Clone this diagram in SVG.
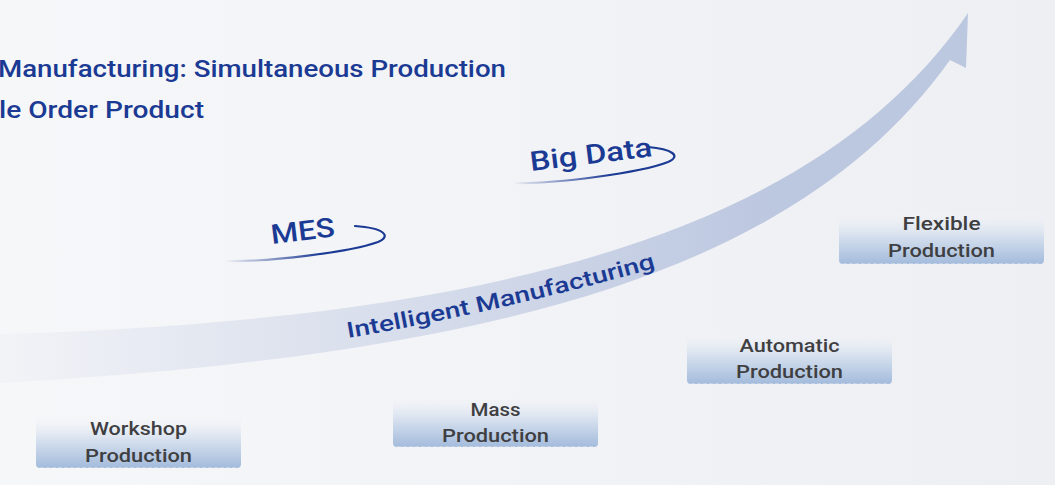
<svg xmlns="http://www.w3.org/2000/svg" width="1055" height="485" viewBox="0 0 1055 485">
  <defs>
    <linearGradient id="bg" x1="0" y1="0" x2="1" y2="0">
      <stop offset="0" stop-color="#f6f7f9"/>
      <stop offset="1" stop-color="#eeeff3"/>
    </linearGradient>
    <linearGradient id="band" gradientUnits="userSpaceOnUse" x1="0" y1="0" x2="968" y2="0">
      <stop offset="0" stop-color="#bcc7e0" stop-opacity="0.08"/>
      <stop offset="0.45" stop-color="#bcc7e0" stop-opacity="0.55"/>
      <stop offset="0.8" stop-color="#bcc7e0" stop-opacity="1"/>
      <stop offset="1" stop-color="#bcc7e0" stop-opacity="1"/>
    </linearGradient>
    <linearGradient id="box" x1="0" y1="0" x2="0" y2="1">
      <stop offset="0" stop-color="#f2f4f8" stop-opacity="0.2"/>
      <stop offset="0.45" stop-color="#d6e0ee"/>
      <stop offset="1" stop-color="#a3bbdc"/>
    </linearGradient>
    <linearGradient id="ringBig" gradientUnits="userSpaceOnUse" x1="513" y1="0" x2="610" y2="0">
      <stop offset="0" stop-color="#1a3a94" stop-opacity="0"/>
      <stop offset="1" stop-color="#1a3a94" stop-opacity="1"/>
    </linearGradient>
    <linearGradient id="ringMes" gradientUnits="userSpaceOnUse" x1="225" y1="0" x2="320" y2="0">
      <stop offset="0" stop-color="#1a3a94" stop-opacity="0"/>
      <stop offset="1" stop-color="#1a3a94" stop-opacity="1"/>
    </linearGradient>
    <style>
      .title { font-family: Roboto, "Liberation Sans", sans-serif; font-weight: 500; font-size: 24px; fill: #1b3a94; }
      .tag { font-family: Roboto, "Liberation Sans", sans-serif; font-weight: 500; font-size: 27px; fill: #1b3a94; }
      .band-label { font-family: Roboto, "Liberation Sans", sans-serif; font-weight: 500; font-size: 22px; fill: #1b3a94; }
      .node-label { font-family: Roboto, "Liberation Sans", sans-serif; font-weight: 500; font-size: 19px; fill: #3f3f42; text-anchor: middle; }
      .node-box { fill: url(#box); }
      .node-edge { fill: none; stroke: #c5d2e6; stroke-width: 1.2; stroke-dasharray: 4 2; }
      .ring { fill: none; stroke-width: 2.2; stroke-linecap: round; }
    </style>
  </defs>

  <rect x="0" y="0" width="1055" height="485" fill="url(#bg)"/>

  <g id="title">
    <text class="title" x="-2" y="77" textLength="508" lengthAdjust="spacingAndGlyphs">Manufacturing: Simultaneous Production</text>
    <text class="title" x="-1" y="118" textLength="205" lengthAdjust="spacingAndGlyphs">le Order Product</text>
  </g>

  <g id="connectors">
    <path id="arrow-band" fill="url(#band)" d="M0,334 C500,320 820,230 968,13 L966,68 L950,60 C800,270 500,355 0,383 Z"/>
  </g>

  <g id="band-label">
    <path id="labelPath" d="M348,338 Q500,312 662,266" fill="none"/>
    <text class="band-label"><textPath href="#labelPath" textLength="316" lengthAdjust="spacingAndGlyphs">Intelligent Manufacturing</textPath></text>
  </g>

  <g id="mes">
    <path class="ring" stroke="url(#ringMes)" d="M225,261 C270,262 350,252 378,242 C392,236 384,228 355,226"/>
    <text class="tag" x="272" y="244" transform="rotate(-7 272 244)" textLength="64" lengthAdjust="spacingAndGlyphs">MES</text>
  </g>

  <g id="big-data">
    <path class="ring" stroke="url(#ringBig)" d="M513,183 C555,184 640,173 668,162 C682,156 672,149 648,147"/>
    <text class="tag" x="531" y="171" transform="rotate(-7 531 171)" textLength="123" lengthAdjust="spacingAndGlyphs">Big Data</text>
  </g>

  <g id="node-workshop">
    <rect class="node-box" x="36" y="417" width="205" height="51" rx="4"/>
    <path class="node-edge" d="M40,467.5 L237,467.5"/>
    <text class="node-label" x="138.5" y="435" textLength="97" lengthAdjust="spacingAndGlyphs">Workshop</text>
    <text class="node-label" x="138.5" y="462" textLength="107" lengthAdjust="spacingAndGlyphs">Production</text>
  </g>

  <g id="node-mass">
    <rect class="node-box" x="393" y="397" width="205" height="50" rx="4"/>
    <path class="node-edge" d="M397,446.5 L594,446.5"/>
    <text class="node-label" x="495.5" y="416" textLength="50" lengthAdjust="spacingAndGlyphs">Mass</text>
    <text class="node-label" x="495.5" y="442" textLength="107" lengthAdjust="spacingAndGlyphs">Production</text>
  </g>

  <g id="node-automatic">
    <rect class="node-box" x="687" y="333" width="205" height="51" rx="4"/>
    <path class="node-edge" d="M691,383.5 L888,383.5"/>
    <text class="node-label" x="789.5" y="352" textLength="100" lengthAdjust="spacingAndGlyphs">Automatic</text>
    <text class="node-label" x="789.5" y="378" textLength="107" lengthAdjust="spacingAndGlyphs">Production</text>
  </g>

  <g id="node-flexible">
    <rect class="node-box" x="839" y="213" width="205" height="51" rx="4"/>
    <path class="node-edge" d="M843,263.5 L1040,263.5"/>
    <text class="node-label" x="941.5" y="230" textLength="78" lengthAdjust="spacingAndGlyphs">Flexible</text>
    <text class="node-label" x="941.5" y="257" textLength="107" lengthAdjust="spacingAndGlyphs">Production</text>
  </g>
</svg>
